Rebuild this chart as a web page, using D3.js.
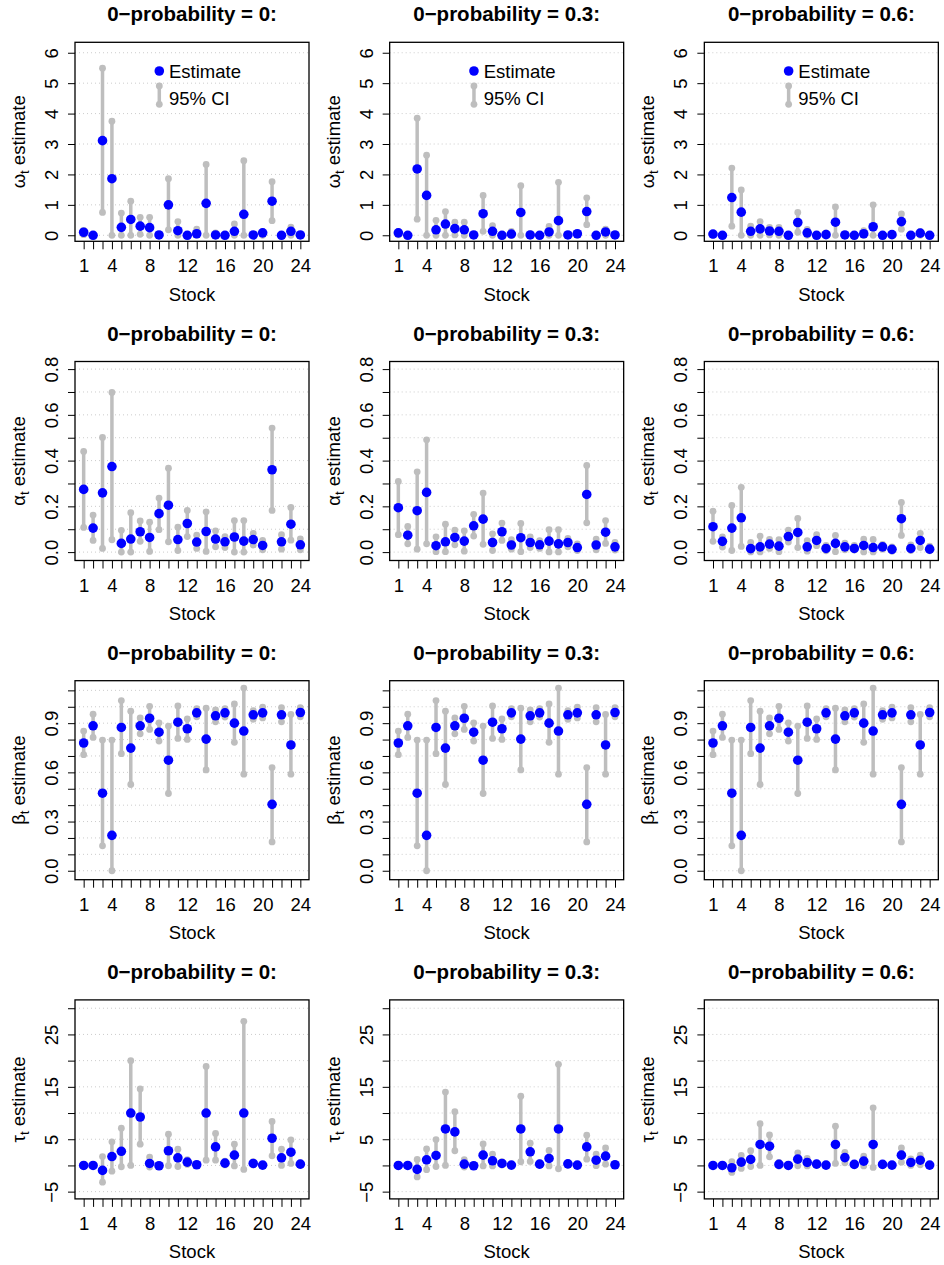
<!DOCTYPE html>
<html>
<head>
<meta charset="utf-8">
<script src="https://cdn.jsdelivr.net/npm/d3@7"></script>
<style>
  body { margin: 0; background: #fff; }
  svg { display: block; }
  text { font-family: "Liberation Sans", Arial, Helvetica, sans-serif; }
</style>
</head>
<body>
<div id="chart"></div>
<script>
// stocks on the x axis
var stocks = [1,2,3,4,5,6,7,8,9,10,11,12,13,14,15,16,17,18,19,20,21,22,23,24];
var xLabels = [1,4,8,12,16,20,24];
var zeroProbs = ["0", "0.3", "0.6"];

// omega_t
var omegaEst0 = [0.10,0.00,3.11,1.86,0.26,0.52,0.30,0.25,0.01,1.00,0.15,0.00,0.05,1.05,0.01,0.00,0.13,0.69,0.01,0.08,1.12,0.00,0.13,0.01];
var omegaLo0  = [0.02,0.00,0.75,0.00,0.00,0.00,0.03,0.00,0.00,0.18,0.00,0.00,0.00,0.00,0.00,0.00,0.00,0.00,0.00,0.00,0.48,0.00,0.00,0.00];
var omegaHi0  = [0.16,0.02,5.49,3.75,0.73,1.12,0.59,0.59,0.02,1.86,0.45,0.02,0.20,2.33,0.08,0.02,0.37,2.45,0.02,0.12,1.76,0.02,0.27,0.02];
var omegaEst1 = [0.08,0.00,2.18,1.31,0.18,0.37,0.22,0.18,0.01,0.71,0.13,0.00,0.04,0.75,0.01,0.00,0.11,0.48,0.01,0.05,0.78,0.00,0.11,0.01];
var omegaLo1  = [0.01,0.00,0.53,0.00,0.00,0.00,0.01,0.00,0.00,0.13,0.00,0.00,0.00,0.00,0.00,0.00,0.00,0.00,0.00,0.00,0.35,0.00,0.00,0.00];
var omegaHi1  = [0.12,0.02,3.85,2.63,0.49,0.78,0.43,0.43,0.02,1.31,0.32,0.02,0.13,1.63,0.05,0.02,0.29,1.74,0.02,0.08,1.23,0.02,0.20,0.02];
var omegaEst2 = [0.04,0.00,1.24,0.76,0.13,0.21,0.14,0.13,0.00,0.42,0.08,0.00,0.02,0.43,0.01,0.00,0.05,0.28,0.00,0.02,0.45,0.00,0.07,0.00];
var omegaLo2  = [0.00,0.00,0.30,0.00,0.00,0.00,0.01,0.00,0.00,0.10,0.00,0.00,0.00,0.00,0.00,0.00,0.00,0.00,0.00,0.00,0.20,0.00,0.00,0.00];
var omegaHi2  = [0.07,0.01,2.21,1.49,0.30,0.45,0.26,0.26,0.01,0.75,0.19,0.01,0.08,0.93,0.03,0.01,0.15,1.00,0.01,0.05,0.70,0.01,0.12,0.01];

// alpha_t
var alphaEst0 = [0.274,0.105,0.259,0.374,0.038,0.057,0.089,0.064,0.168,0.205,0.055,0.125,0.044,0.090,0.057,0.045,0.066,0.048,0.055,0.029,0.360,0.045,0.122,0.032];
var alphaLo0  = [0.108,0.051,0.016,0.054,0.000,0.000,0.047,0.003,0.098,0.045,0.007,0.068,0.016,0.003,0.023,0.020,0.000,0.000,0.031,0.010,0.182,0.013,0.052,0.010];
var alphaHi0  = [0.440,0.162,0.501,0.698,0.095,0.172,0.136,0.131,0.236,0.367,0.109,0.182,0.074,0.176,0.093,0.068,0.138,0.138,0.082,0.051,0.542,0.076,0.195,0.058];
var alphaEst1 = [0.194,0.074,0.181,0.261,0.028,0.045,0.064,0.048,0.115,0.144,0.042,0.089,0.031,0.063,0.042,0.032,0.048,0.036,0.042,0.020,0.252,0.031,0.087,0.023];
var alphaLo1  = [0.076,0.036,0.013,0.036,0.002,0.002,0.032,0.004,0.070,0.034,0.007,0.051,0.013,0.002,0.020,0.016,0.001,0.001,0.023,0.007,0.128,0.010,0.038,0.009];
var alphaHi1  = [0.309,0.112,0.351,0.491,0.067,0.122,0.096,0.093,0.165,0.258,0.080,0.127,0.054,0.125,0.067,0.050,0.098,0.098,0.060,0.036,0.379,0.057,0.138,0.042];
var alphaEst2 = [0.111,0.047,0.105,0.150,0.015,0.023,0.035,0.026,0.068,0.086,0.023,0.051,0.016,0.038,0.023,0.016,0.029,0.020,0.023,0.012,0.146,0.016,0.051,0.013];
var alphaLo2  = [0.047,0.022,0.007,0.025,0.001,0.001,0.016,0.002,0.044,0.020,0.004,0.028,0.006,0.002,0.010,0.009,0.001,0.001,0.013,0.004,0.073,0.007,0.020,0.006];
var alphaHi2  = [0.179,0.067,0.204,0.283,0.042,0.070,0.055,0.054,0.096,0.147,0.050,0.076,0.029,0.073,0.039,0.029,0.057,0.055,0.034,0.023,0.217,0.032,0.082,0.026];

// beta_t (same in all three panels)
var betaEst = [0.779,0.884,0.473,0.216,0.874,0.748,0.884,0.930,0.845,0.674,0.906,0.866,0.963,0.803,0.945,0.963,0.900,0.852,0.951,0.963,0.405,0.951,0.767,0.965];
var betaLo  = [0.708,0.813,0.152,0.000,0.714,0.526,0.835,0.862,0.791,0.471,0.807,0.801,0.939,0.615,0.908,0.937,0.783,0.589,0.924,0.932,0.176,0.908,0.589,0.939];
var betaHi  = [0.852,0.955,0.797,0.797,1.038,0.973,0.932,1.003,0.902,0.882,1.005,0.926,0.989,0.991,0.981,0.989,1.017,1.114,0.977,0.997,0.629,0.995,0.953,0.995];

// tau_t
var tauEst0 = [0.00,0.00,-0.95,1.70,2.70,10.00,9.24,0.38,-0.06,2.80,1.46,0.63,0.13,10.00,3.54,0.44,1.96,10.00,0.38,0.06,5.19,1.46,2.53,0.25];
var tauLo0  = [-0.20,-0.10,-3.20,-1.10,-0.25,0.00,4.05,-0.30,-0.20,-0.06,-0.20,0.20,0.00,1.00,1.00,0.10,-0.10,-0.76,0.10,-0.10,1.84,0.00,0.38,0.00];
var tauHi0  = [0.20,0.10,1.70,4.50,7.10,20.00,14.60,1.60,0.10,5.95,3.10,1.10,0.30,18.90,6.10,0.80,4.05,27.50,0.70,0.20,8.40,3.10,4.87,0.50];
var tauEst1 = [0.00,0.00,-0.76,1.08,1.90,6.96,6.40,0.25,-0.06,1.96,0.89,0.38,0.06,6.96,2.60,0.25,1.33,6.96,0.30,0.06,3.54,1.00,1.77,0.13];
var tauLo1  = [-0.20,-0.10,-2.20,-0.80,-0.20,0.00,2.80,-0.30,-0.20,-0.10,-0.10,0.10,0.00,0.70,0.76,0.05,-0.10,-0.63,0.05,-0.10,1.20,-0.05,0.25,0.00];
var tauHi1  = [0.20,0.10,1.14,3.16,4.94,14.00,10.25,1.10,0.10,4.10,2.15,0.70,0.20,13.20,4.24,0.50,2.85,19.30,0.50,0.20,5.76,2.15,3.35,0.30];
var tauEst2 = [0.00,0.00,-0.44,0.63,1.14,4.00,3.67,0.20,0.00,1.20,0.57,0.25,0.06,4.00,1.50,0.20,0.82,4.00,0.20,0.06,1.96,0.57,1.00,0.06];
var tauLo2  = [-0.10,-0.10,-1.33,-0.57,-0.20,0.00,1.65,-0.10,-0.10,-0.06,-0.10,0.05,0.00,0.38,0.50,0.05,-0.10,-0.38,0.05,-0.05,0.63,0.00,0.13,0.00];
var tauHi2  = [0.10,0.10,0.70,1.90,2.80,7.97,5.82,0.60,0.10,2.40,1.33,0.45,0.15,7.50,2.50,0.35,1.77,11.00,0.35,0.15,3.35,1.27,1.96,0.20];

// y axis ticks and labels
var omegaTicks = [0,1,2,3,4,5,6];
var omegaLabels = [0,1,2,3,4,5,6];
var alphaTicks = [0,0.1,0.2,0.3,0.4,0.5,0.6,0.7,0.8];
var alphaLabels = [0,0.2,0.4,0.6,0.8];
var betaTicks = [0,0.1,0.2,0.3,0.4,0.5,0.6,0.7,0.8,0.9,1.0,1.1];
var betaLabels = [0,0.3,0.6,0.9];
var tauTicks = [-5,0,5,10,15,20,25,30];
var tauLabels = [-5,5,15,25];

var rows = [
  {sym: "\u03c9", ticks: omegaTicks, labels: omegaLabels, fmt: d3.format("d"), domain: [-0.198, 6.343],
   series: [[omegaEst0, omegaLo0, omegaHi0], [omegaEst1, omegaLo1, omegaHi1], [omegaEst2, omegaLo2, omegaHi2]]},
  {sym: "\u03b1", ticks: alphaTicks, labels: alphaLabels, fmt: d3.format(".1f"), domain: [-0.0367, 0.8332],
   series: [[alphaEst0, alphaLo0, alphaHi0], [alphaEst1, alphaLo1, alphaHi1], [alphaEst2, alphaLo2, alphaHi2]]},
  {sym: "\u03b2", ticks: betaTicks, labels: betaLabels, fmt: d3.format(".1f"), domain: [-0.0546, 1.159],
   series: [[betaEst, betaLo, betaHi], [betaEst, betaLo, betaHi], [betaEst, betaLo, betaHi]]},
  {sym: "\u03c4", ticks: tauTicks, labels: tauLabels, fmt: function(d) { return d < 0 ? "\u2212" + Math.abs(d) : String(d); }, domain: [-6.386, 31.59],
   series: [[tauEst0, tauLo0, tauHi0], [tauEst1, tauLo1, tauHi1], [tauEst2, tauLo2, tauHi2]]}
];

var W = 944, H = 1265;
var colW = W / 3, boxL = 75, boxW = 234, boxT0 = 42.3, rowStep = 319.2, boxH = 199;
var grey = "#BEBEBE", blue = "#0000FF";

var svg = d3.select("#chart").append("svg")
  .attr("width", W)
  .attr("height", H);

rows.forEach(function(row, r) {
  row.series.forEach(function(s, c) {
    var left = c * colW + boxL;
    var top = boxT0 + r * rowStep;

    var x = d3.scaleLinear().domain([0.08, 24.92]).range([left, left + boxW]);
    var y = d3.scaleLinear().domain(row.domain).range([top + boxH, top]);

    var g = svg.append("g");

    // dotted grid
    g.selectAll("line.grid").data(row.ticks).enter().append("line")
      .attr("class", "grid")
      .attr("x1", left).attr("x2", left + boxW)
      .attr("y1", function(d) { return y(d); })
      .attr("y2", function(d) { return y(d); })
      .attr("stroke", "#CCCCCC")
      .attr("stroke-width", 1)
      .attr("stroke-dasharray", "1,3");

    var pts = stocks.map(function(st, i) {
      return {x: st, est: s[0][i], lo: s[1][i], hi: s[2][i]};
    });

    // confidence intervals
    g.selectAll("line.ci").data(pts).enter().append("line")
      .attr("class", "ci")
      .attr("x1", function(d) { return x(d.x); })
      .attr("x2", function(d) { return x(d.x); })
      .attr("y1", function(d) { return y(d.lo); })
      .attr("y2", function(d) { return y(d.hi); })
      .attr("stroke", grey)
      .attr("stroke-width", 3.5);

    g.selectAll("circle.lo").data(pts).enter().append("circle")
      .attr("cx", function(d) { return x(d.x); })
      .attr("cy", function(d) { return y(d.lo); })
      .attr("r", 3.4)
      .attr("fill", grey);

    g.selectAll("circle.hi").data(pts).enter().append("circle")
      .attr("cx", function(d) { return x(d.x); })
      .attr("cy", function(d) { return y(d.hi); })
      .attr("r", 3.4)
      .attr("fill", grey);

    // estimates
    g.selectAll("circle.est").data(pts).enter().append("circle")
      .attr("cx", function(d) { return x(d.x); })
      .attr("cy", function(d) { return y(d.est); })
      .attr("r", 4.8)
      .attr("fill", blue);

    // box
    g.append("rect")
      .attr("x", left).attr("y", top)
      .attr("width", boxW).attr("height", boxH)
      .attr("fill", "none")
      .attr("stroke", "#000")
      .attr("stroke-width", 1.3);

    // x axis
    var xAxis = d3.axisBottom(x)
      .tickValues(stocks)
      .tickSize(8)
      .tickSizeOuter(0)
      .tickFormat(function(d) { return xLabels.indexOf(d) >= 0 ? d : ""; });
    var gx = g.append("g").attr("transform", "translate(0," + (top + boxH) + ")").call(xAxis);
    gx.select(".domain").remove();
    gx.selectAll("text")
      .attr("y", 31).attr("dy", 0)
      .attr("font-size", 18.5)
      .attr("font-family", "Liberation Sans, Arial, sans-serif")
      .attr("fill", "#000");

    // y axis
    var yAxis = d3.axisLeft(y)
      .tickValues(row.ticks)
      .tickSize(7)
      .tickSizeOuter(0)
      .tickFormat(function(d) {
        return row.labels.some(function(l) { return Math.abs(l - d) < 1e-9; }) ? row.fmt(d) : "";
      });
    var gy = g.append("g").attr("transform", "translate(" + left + ",0)").call(yAxis);
    gy.select(".domain").remove();
    gy.selectAll("text")
      .attr("x", 0).attr("dy", 0)
      .attr("transform", "translate(-17,0) rotate(-90)")
      .attr("text-anchor", "middle")
      .attr("font-size", 18.5)
      .attr("font-family", "Liberation Sans, Arial, sans-serif")
      .attr("fill", "#000");

    // axis titles
    g.append("text")
      .attr("x", left + boxW / 2)
      .attr("y", top + boxH + 59.5)
      .attr("text-anchor", "middle")
      .attr("font-size", 18.5)
      .text("Stock");

    var yt = g.append("text")
      .attr("transform", "translate(" + (c * colW + 25) + "," + (top + boxH / 2) + ") rotate(-90)")
      .attr("text-anchor", "middle")
      .attr("font-size", 18.5);
    yt.append("tspan").text(row.sym);
    yt.append("tspan").attr("dy", 4).attr("font-size", 13).text("t");
    yt.append("tspan").attr("dy", -4).text(" estimate");

    // panel title
    g.append("text")
      .attr("x", left + boxW / 2)
      .attr("y", top - 21)
      .attr("text-anchor", "middle")
      .attr("font-size", 20.5)
      .attr("font-weight", "bold")
      .text("0\u2212probability = " + zeroProbs[c] + ":");

    // legend in the top row
    if (r === 0) {
      var lx = left + 84.3;
      g.append("circle").attr("cx", lx).attr("cy", top + 28.7).attr("r", 4.8).attr("fill", blue);
      g.append("text").attr("x", left + 94).attr("y", top + 35.3).attr("font-size", 18.5).text("Estimate");
      g.append("line")
        .attr("x1", lx).attr("x2", lx)
        .attr("y1", top + 43.7).attr("y2", top + 62)
        .attr("stroke", grey).attr("stroke-width", 3.5);
      g.append("circle").attr("cx", lx).attr("cy", top + 43.7).attr("r", 3.4).attr("fill", grey);
      g.append("circle").attr("cx", lx).attr("cy", top + 62).attr("r", 3.4).attr("fill", grey);
      g.append("text").attr("x", left + 94).attr("y", top + 62.6).attr("font-size", 18.5).text("95% CI");
    }
  });
});
</script>
</body>
</html>
